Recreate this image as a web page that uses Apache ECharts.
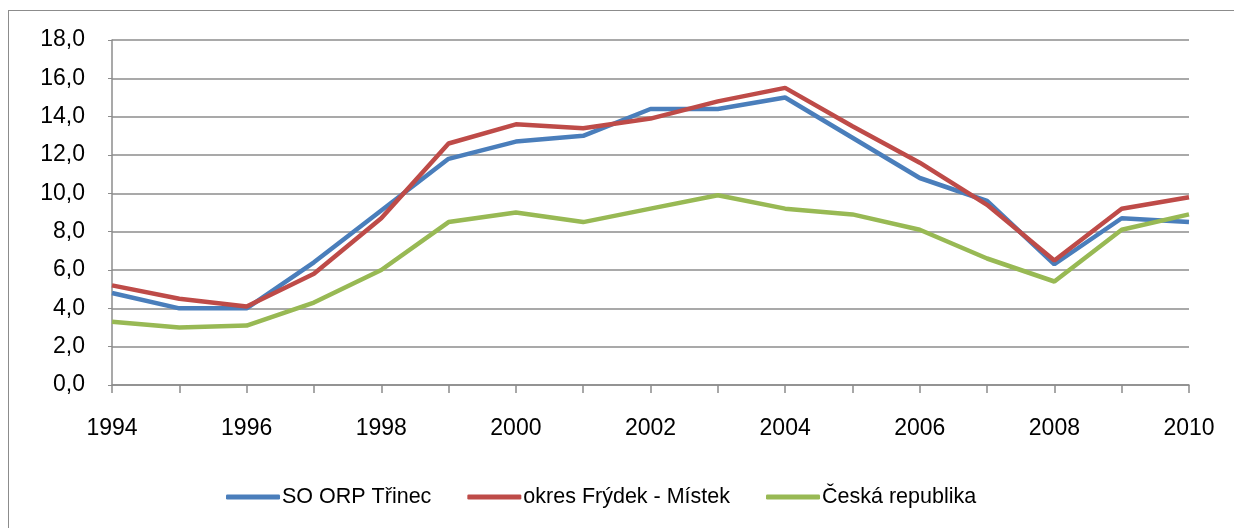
<!DOCTYPE html>
<html>
<head>
<meta charset="utf-8">
<script src="https://cdn.jsdelivr.net/npm/echarts@6/dist/echarts.min.js"></script>
<style>
  html, body { margin: 0; padding: 0; background: #fff; overflow: hidden; }
  #frame {
    position: absolute; left: 8px; top: 10px;
    width: 1240px; height: 540px;
    border: 1.5px solid #8c8c8c; box-sizing: border-box;
  }
  #chart { position: absolute; left: 0; top: 0; width: 1234px; height: 528px; }
</style>
</head>
<body>
<div id="frame"></div>
<div id="chart"></div>
<script>
const years = ["1994","1995","1996","1997","1998","1999","2000","2001","2002",
  "2003","2004","2005","2006","2007","2008","2009","2010"];
const trinec = [4.8, 4.0, 4.0, 6.4, 9.1, 11.8, 12.7, 13.0, 14.4, 14.4, 15.0, 12.9, 10.8, 9.6, 6.3, 8.7, 8.5];
const frydek = [5.2, 4.5, 4.1, 5.8, 8.7, 12.6, 13.6, 13.4, 13.9, 14.8, 15.5, 13.5, 11.6, 9.4, 6.5, 9.2, 9.8];
const cr = [3.3, 3.0, 3.1, 4.3, 6.0, 8.5, 9.0, 8.5, 9.2, 9.9, 9.2, 8.9, 8.1, 6.6, 5.4, 8.1, 8.9];
const names = ["SO ORP Třinec", "okres Frýdek - Místek", "Česká republika"];
const colors = ["#4a7ebb", "#be4b48", "#98b954"];

const chart = echarts.init(document.getElementById("chart"));

function line(name, data, color) {
  return {
    name: name,
    type: "line",
    data: data,
    symbol: "none",
    lineStyle: { color: color, width: 4.5 },
    itemStyle: { color: color },
    z: 3
  };
}

chart.setOption({
  animation: false,
  textStyle: { fontFamily: "Liberation Sans", color: "#000" },
  grid: { left: 112, right: 45, top: 40, bottom: 143 },
  legend: {
    top: 481,
    left: 221,
    icon: "roundRect",
    itemWidth: 54,
    itemHeight: 5,
    itemGap: 36,
    textStyle: { fontSize: 21.5, color: "#000", fontFamily: "Liberation Sans", padding: [0, 0, 0, -3] },
    data: names
  },
  xAxis: {
    type: "category",
    data: years,
    boundaryGap: false,
    axisLine: { lineStyle: { color: "#8c8c8c", width: 1.5 } },
    axisTick: { interval: 0, length: 8, lineStyle: { color: "#8c8c8c", width: 1.5 } },
    axisLabel: { interval: 1, margin: 32, fontSize: 23, color: "#000" },
    splitLine: { show: false }
  },
  yAxis: {
    type: "value",
    min: 0,
    max: 18,
    interval: 2,
    axisLine: { show: true, lineStyle: { color: "#8c8c8c", width: 1.5 } },
    axisTick: { show: true, length: 4, lineStyle: { color: "#8c8c8c" } },
    axisLabel: {
      fontSize: 23, color: "#000", margin: 27,
      formatter: v => v.toFixed(1).replace(".", ",")
    },
    splitLine: { lineStyle: { color: "#8c8c8c", width: 1.5 } }
  },
  series: [
    line(names[0], trinec, colors[0]),
    line(names[1], frydek, colors[1]),
    line(names[2], cr, colors[2])
  ]
});
</script>
</body>
</html>
